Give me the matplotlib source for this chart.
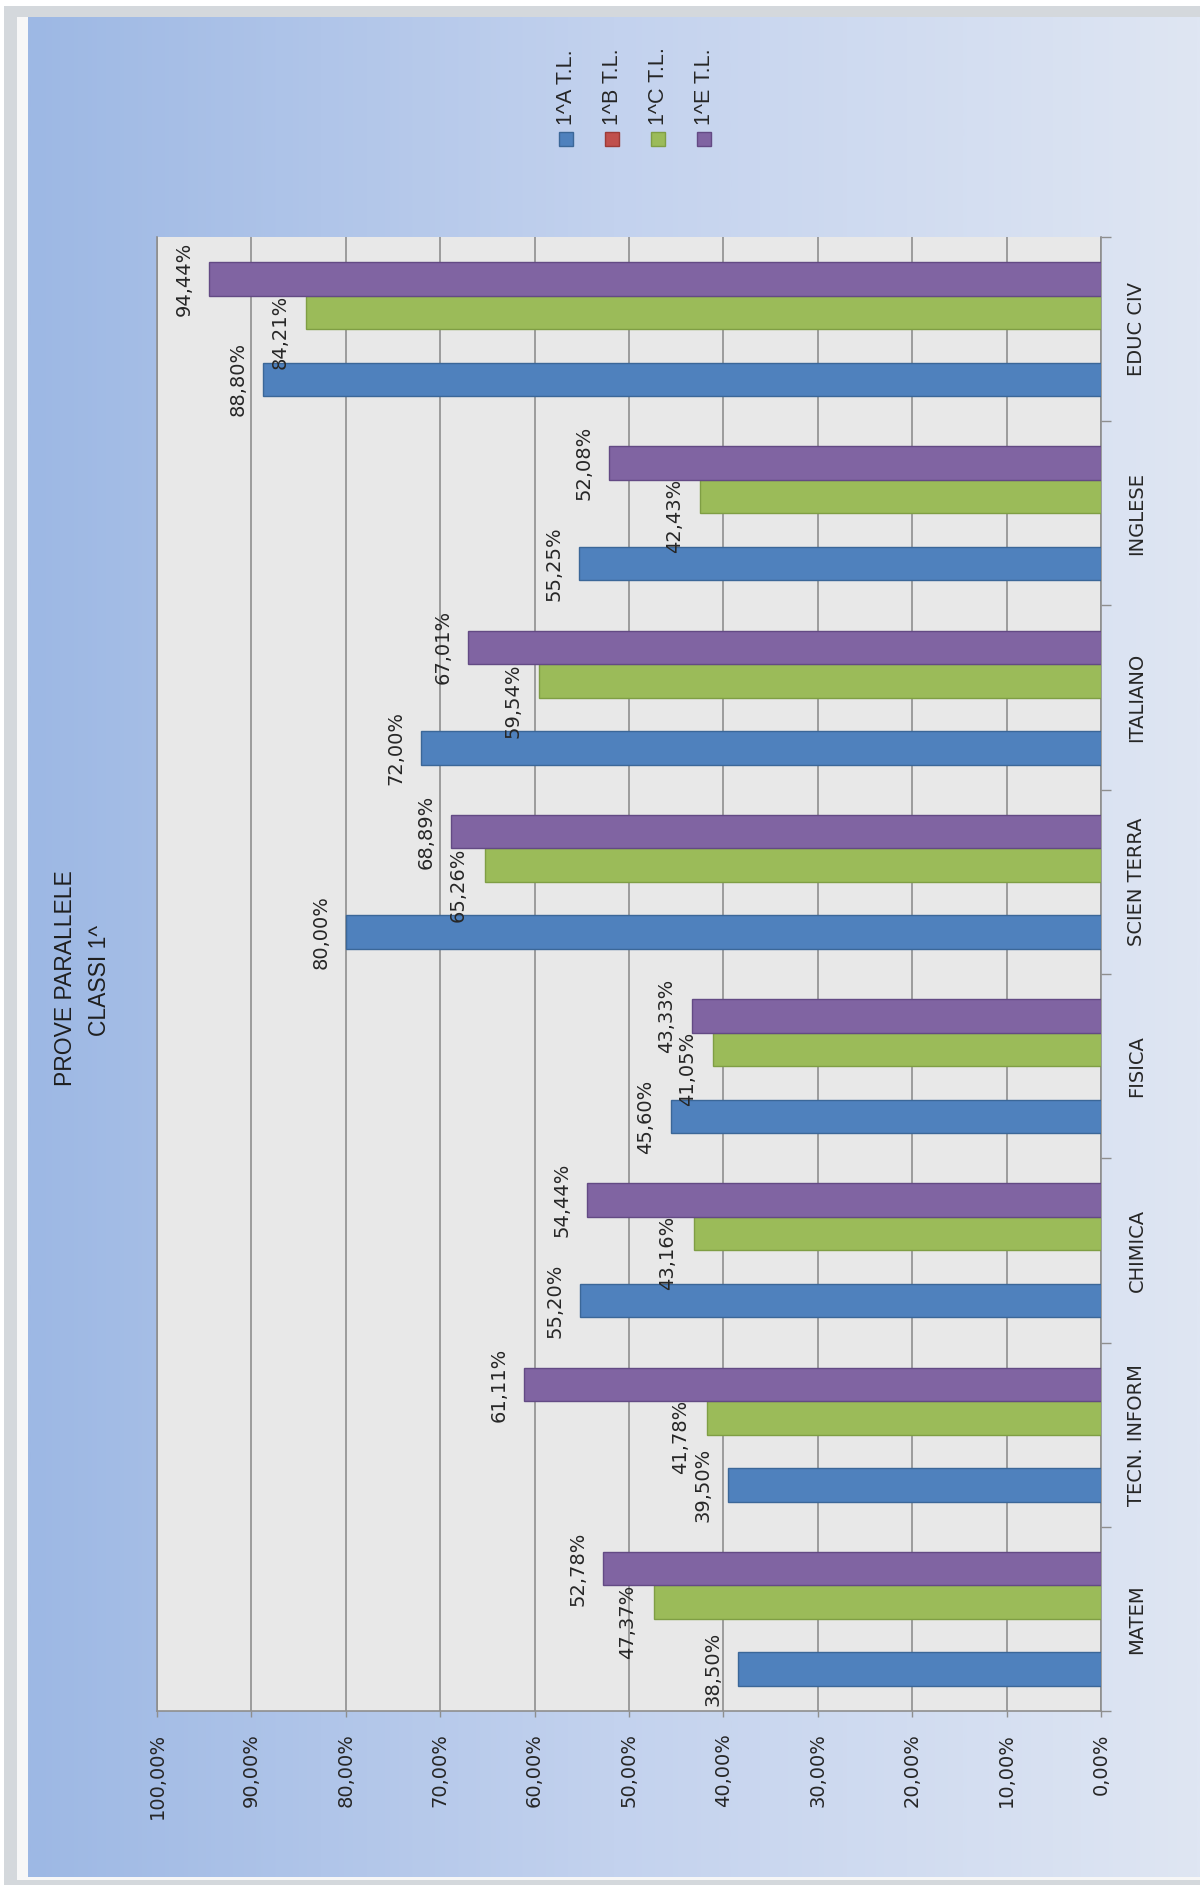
"""PROVE PARALLELE - CLASSI 1^ : column chart drawn rotated (bars grow leftwards)."""

import numpy as np
import matplotlib

matplotlib.use("Agg")
import matplotlib.pyplot as plt
from matplotlib.colors import LinearSegmentedColormap
from matplotlib.patches import Rectangle
from matplotlib.ticker import FixedLocator, FuncFormatter


CATEGORIES = ["MATEM", "TECN. INFORM", "CHIMICA", "FISICA", "SCIEN TERRA", "ITALIANO", "INGLESE", "EDUC CIV"]
SERIES_NAMES = ["1^A T.L.", "1^B T.L.", "1^C T.L.", "1^E T.L."]
CLASS_A = [38.50, 39.50, 55.20, 45.60, 80.00, 72.00, 55.25, 88.80]
CLASS_B = [0, 0, 0, 0, 0, 0, 0, 0]
CLASS_C = [47.37, 41.78, 43.16, 41.05, 65.26, 59.54, 42.43, 84.21]
CLASS_E = [52.78, 61.11, 54.44, 43.33, 68.89, 67.01, 52.08, 94.44]
VALUE_TICKS = [0, 10, 20, 30, 40, 50, 60, 70, 80, 90, 100]
TITLE_LINES = ["PROVE PARALLELE", "CLASSI 1^"]

FILLS = ["#4F81BD", "#C0504D", "#9BBB59", "#8064A2"]
EDGES = ["#3B6798", "#9C3B38", "#7F9E44", "#634A84"]
GRID_COLOR = "#8E8E8E"
TEXT_COLOR = "#262626"
TITLE_FONT = ["Liberation Sans", "DejaVu Sans"]

W, H = 1200, 1892


def fx(x):
    return x / W


def fy(y):
    return 1 - y / H


def pct(value, _pos=None):
    return f"{value:.2f}%".replace(".", ",")


fig = plt.figure(figsize=(W / 100, H / 100), dpi=100)
fig.patch.set_facecolor("#FFFFFF")

# window frame around the chart area
fig.add_artist(Rectangle((fx(4), fy(1885)), (W - 4) / W, (1885 - 6) / H,
                         transform=fig.transFigure, facecolor="#D4D8DC", edgecolor="none", zorder=0))
fig.add_artist(Rectangle((fx(17), fy(1880)), (W - 17) / W, (1880 - 17) / H,
                         transform=fig.transFigure, facecolor="#F7F7F7", edgecolor="none", zorder=0))

# gradient chart background
bg = fig.add_axes([fx(28), fy(1877), (W - 28) / W, (1877 - 17) / H], zorder=0)
gradient_cmap = LinearSegmentedColormap.from_list("bg", ["#9DB8E4", "#C3D2EE", "#DFE6F3"])
bg.imshow(np.linspace(0, 1, 512)[None, :], aspect="auto", cmap=gradient_cmap, extent=[0, 1, 0, 1])
bg.axis("off")

ax = fig.add_axes([fx(157), fy(1711), (1101 - 157) / W, (1711 - 237) / H], zorder=1)
ax.set_facecolor("#E8E8E8")

y = np.arange(len(CATEGORIES))
bar_h = 1 / 5.5
series = [CLASS_A, CLASS_B, CLASS_C, CLASS_E]
for index, (values, fill, edge) in enumerate(zip(series, FILLS, EDGES)):
    ax.barh(
        y + (index - 1.5) * bar_h,
        values,
        height=bar_h,
        color=fill,
        edgecolor=edge,
        linewidth=[1.0 if v > 0 else 0 for v in values],
        zorder=3,
    )
    for yc, value in zip(y + (index - 1.5) * bar_h, values):
        if value <= 0:
            continue
        dx, dy = (-19, -14) if index == 2 else (-18, 0)
        ax.annotate(
            pct(value),
            xy=(value, yc),
            xytext=(dx, dy),
            textcoords="offset points",
            rotation=90,
            ha="center",
            va="center",
            fontsize=14,
            color=TEXT_COLOR,
            zorder=4,
        )

ax.set_xlim(100, 0)
ax.set_ylim(-0.5, len(CATEGORIES) - 0.5)
ax.xaxis.set_major_locator(FixedLocator(VALUE_TICKS))
ax.xaxis.set_major_formatter(FuncFormatter(pct))
ax.tick_params(axis="x", rotation=90, labelsize=14, length=4, width=1, color=GRID_COLOR,
               pad=12, labelcolor=TEXT_COLOR)

ax.yaxis.tick_right()
ax.set_yticks(y)
ax.set_yticklabels(CATEGORIES, rotation=90, va="center", ha="left")
ax.yaxis.set_minor_locator(FixedLocator(np.arange(-0.5, len(CATEGORIES), 1.0)))
ax.tick_params(axis="y", which="major", length=0, pad=19, labelsize=14, labelcolor=TEXT_COLOR)
ax.tick_params(axis="y", which="minor", right=True, left=False, length=7, width=1, color=GRID_COLOR)

ax.grid(axis="x", color=GRID_COLOR, linewidth=1.2)
ax.set_axisbelow(True)
ax.spines["top"].set_visible(False)
for side in ("left", "right", "bottom"):
    ax.spines[side].set_color(GRID_COLOR)
    ax.spines[side].set_linewidth(1.2)

# title, rotated like the rest of the chart
fig.text(fx(65), fy(978), TITLE_LINES[0], rotation=90, ha="center", va="center",
         fontsize=16.5, family=TITLE_FONT, color="#1F1F1F")
fig.text(fx(100), fy(980), TITLE_LINES[1], rotation=90, ha="center", va="center",
         fontsize=16.5, family=TITLE_FONT, color="#1F1F1F")

# legend
for index, (name, fill, edge) in enumerate(zip(SERIES_NAMES, FILLS, EDGES)):
    cx = 566 + index * 46
    fig.add_artist(Rectangle((fx(cx - 7), fy(146)), 14 / W, 14 / H, transform=fig.transFigure,
                             facecolor=fill, edgecolor=edge, linewidth=1, zorder=2))
    fig.text(fx(cx), fy(125), name, rotation=90, ha="center", va="bottom",
             fontsize=15.5, family=TITLE_FONT, color=TEXT_COLOR, zorder=2)

fig.savefig("out.png", dpi=100)
plt.close(fig)
